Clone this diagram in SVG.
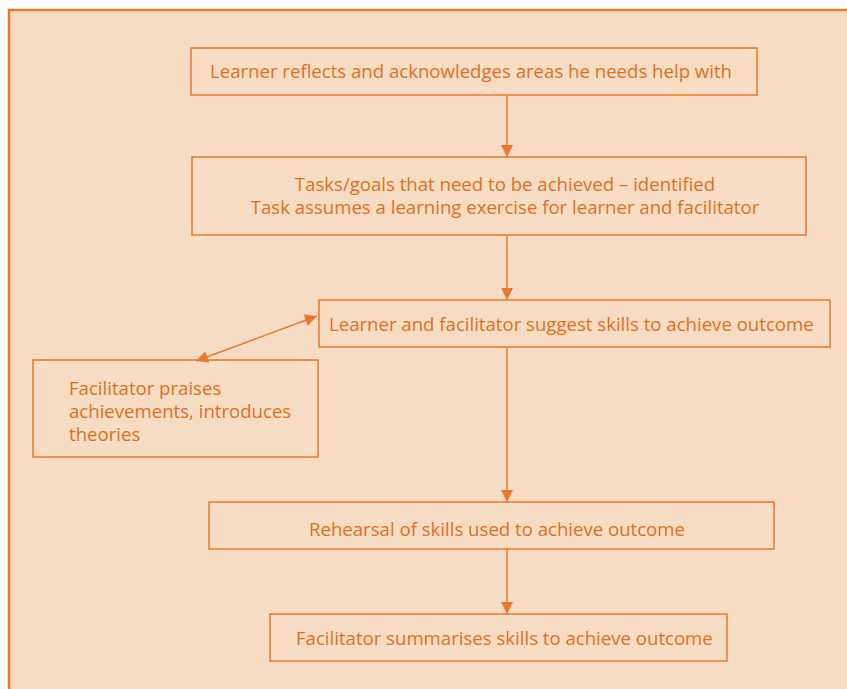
<svg xmlns="http://www.w3.org/2000/svg" width="847" height="689" viewBox="0 0 847 689">
<style>
.box{fill:none;stroke:#E8782A;stroke-width:1.5}
.t{font-family:"Open Sans","Noto Sans",sans-serif;font-size:18.6px;fill:#E0701E}
.c{text-anchor:middle}
.ln{stroke:#E8782A;stroke-width:1.5;fill:none}
</style>
<defs>
<marker id="ah2" viewBox="0 0 10 10" refX="10" refY="5" markerWidth="14" markerHeight="12" markerUnits="userSpaceOnUse" orient="auto-start-reverse">
<path d="M0,0 L10,5 L0,10 z" fill="#E8782A"/>
</marker>
</defs>
<rect x="0" y="0" width="847" height="689" fill="#ffffff"/>
<rect x="9" y="10" width="850" height="690" fill="#F7DCC4" stroke="#E8782A" stroke-width="2.5"/>
<g id="connectors">
<line class="ln" x1="507" y1="95" x2="507" y2="157" marker-end="url(#ah2)"/>
<line class="ln" x1="507" y1="235" x2="507" y2="300" marker-end="url(#ah2)"/>
<line class="ln" x1="507" y1="347" x2="507" y2="502" marker-end="url(#ah2)"/>
<line class="ln" x1="507" y1="549" x2="507" y2="614" marker-end="url(#ah2)"/>
<line class="ln" x1="196" y1="361" x2="317" y2="316" marker-start="url(#ah2)" marker-end="url(#ah2)"/>
</g>
<g id="n1">
<rect class="box" x="191" y="48" width="566" height="47"/>
<text class="t" x="210" y="78">Learner reflects and acknowledges areas he needs help with</text>
</g>
<g id="n2">
<rect class="box" x="192" y="157" width="614" height="78"/>
<text class="t c" x="505" y="191">Tasks/goals that need to be achieved – identified</text>
<text class="t c" x="505" y="214">Task assumes a learning exercise for learner and facilitator</text>
</g>
<g id="n3">
<rect class="box" x="319" y="300" width="511" height="47"/>
<text class="t" x="329" y="331">Learner and facilitator suggest skills to achieve outcome</text>
</g>
<g id="n4">
<rect class="box" x="33" y="360" width="285" height="97"/>
<text class="t" x="69" y="395">Facilitator praises</text>
<text class="t" x="69" y="418">achievements, introduces</text>
<text class="t" x="69" y="441">theories</text>
</g>
<g id="n5">
<rect class="box" x="209" y="502" width="565" height="47"/>
<text class="t c" x="497" y="536">Rehearsal of skills used to achieve outcome</text>
</g>
<g id="n6">
<rect class="box" x="270" y="614" width="457" height="47"/>
<text class="t" x="296" y="645">Facilitator summarises skills to achieve outcome</text>
</g>
</svg>
